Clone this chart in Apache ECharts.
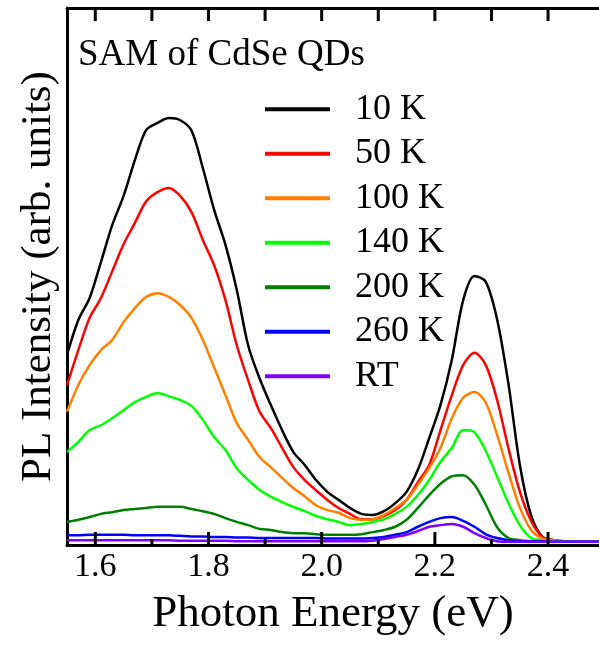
<!DOCTYPE html>
<html>
<head>
<meta charset="utf-8">
<script src="https://cdn.jsdelivr.net/npm/echarts@6/dist/echarts.min.js"></script>
<style>
    html, body { margin: 0; padding: 0; background: #fff; }
    #chart { width: 599px; height: 646px; }
</style>
</head>
<body>
<div id="chart"></div>
<script>
// photon energy grid (eV)
const energy = [
    1.55, 1.57, 1.59, 1.61, 1.63, 1.65, 1.67, 1.69, 1.71, 1.73,
    1.75, 1.77, 1.79, 1.81, 1.83, 1.85, 1.87, 1.89, 1.91, 1.93,
    1.95, 1.97, 1.99, 2.01, 2.03, 2.05, 2.07, 2.09, 2.11, 2.13,
    2.15, 2.17, 2.19, 2.21, 2.23, 2.25, 2.27, 2.29, 2.31, 2.33,
    2.35, 2.37, 2.39, 2.41, 2.43, 2.45, 2.47, 2.49,
];

// PL intensity, arb. units
const pl10K = [
    35.4, 41.9, 46.0, 52.7, 59.6, 65.0, 71.7, 77.3, 78.6, 79.5,
    79.1, 77.2, 70.2, 62.4, 55.9, 47.5, 37.2, 31.1, 26.1, 21.4,
    17.3, 14.9, 12.1, 9.9, 8.4, 6.9, 5.8, 5.6, 6.3, 7.8,
    9.9, 14.0, 19.9, 26.1, 34.5, 45.6, 50.1, 49.0, 42.0, 30.0,
    15.0, 5.5, 1.5, 0.9, 0.7, 0.7, 0.6, 0.6,
];
const pl50K = [
    29.8, 36.3, 42.3, 46.0, 51.0, 56.0, 60.0, 64.0, 65.7, 66.5,
    65.0, 62.0, 56.8, 52.1, 45.6, 37.2, 30.7, 24.9, 21.8, 18.1,
    14.5, 12.1, 10.2, 8.4, 6.9, 5.8, 4.8, 4.8, 5.4, 6.5,
    8.4, 11.7, 14.9, 21.4, 27.9, 33.5, 35.8, 33.5, 27.0, 18.0,
    10.0, 4.5, 1.5, 0.9, 0.7, 0.7, 0.6, 0.6,
];
const pl100K = [
    24.8, 29.8, 33.5, 36.3, 38.2, 41.5, 44.1, 46.2, 46.9, 46.2,
    44.7, 42.3, 38.2, 33.1, 27.9, 22.7, 19.6, 16.4, 14.5, 12.5,
    10.6, 9.1, 7.4, 6.5, 6.0, 5.0, 4.7, 4.8, 5.6, 6.9,
    8.4, 11.2, 14.3, 18.1, 23.6, 27.4, 28.5, 26.5, 20.5, 13.5,
    7.0, 2.8, 1.2, 0.9, 0.7, 0.7, 0.6, 0.6,
];
const pl140K = [
    17.3, 19.2, 21.4, 22.3, 23.6, 25.1, 26.6, 27.6, 28.3, 27.7,
    27.0, 25.9, 23.3, 20.1, 17.7, 14.3, 12.1, 10.3, 9.0, 8.0,
    7.1, 6.3, 5.4, 4.8, 4.3, 3.7, 3.9, 4.3, 4.8, 5.8,
    7.1, 9.3, 12.1, 15.5, 18.1, 21.4, 21.0, 17.5, 12.7, 7.8,
    3.7, 1.3, 0.9, 0.7, 0.7, 0.6, 0.6, 0.6,
];
const pl200K = [
    4.3, 4.7, 5.2, 5.8, 6.1, 6.5, 6.7, 6.9, 7.1, 7.1,
    7.1, 6.7, 6.3, 5.8, 5.0, 4.3, 3.7, 3.0, 2.8, 2.4,
    2.2, 2.2, 2.0, 1.9, 1.9, 1.9, 2.0, 2.4, 2.8, 3.4,
    4.7, 6.9, 9.3, 11.4, 12.8, 13.0, 11.2, 7.5, 3.3, 1.3,
    0.9, 0.7, 0.7, 0.6, 0.6, 0.6, 0.6, 0.6,
];
const pl260K = [
    1.8, 1.8, 1.9, 1.9, 1.9, 1.9, 1.8, 1.8, 1.8, 1.8,
    1.7, 1.6, 1.6, 1.5, 1.5, 1.4, 1.4, 1.3, 1.3, 1.3,
    1.3, 1.3, 1.3, 1.2, 1.2, 1.2, 1.2, 1.3, 1.5, 1.9,
    2.4, 3.4, 4.3, 5.0, 5.2, 4.5, 3.4, 2.0, 1.3, 0.9,
    0.7, 0.7, 0.7, 0.6, 0.6, 0.6, 0.6, 0.6,
];
const plRT = [
    0.9, 0.9, 0.9, 0.9, 0.9, 0.9, 0.9, 0.9, 0.9, 0.9,
    0.8, 0.8, 0.8, 0.8, 0.8, 0.7, 0.7, 0.7, 0.7, 0.7,
    0.7, 0.7, 0.7, 0.7, 0.7, 0.7, 0.7, 0.8, 1.1, 1.5,
    1.9, 2.6, 3.4, 3.7, 3.9, 3.4, 2.2, 1.3, 0.7, 0.6,
    0.6, 0.6, 0.6, 0.6, 0.6, 0.6, 0.6, 0.6,
];

const seriesNames = ['10 K', '50 K', '100 K', '140 K', '200 K', '260 K', 'RT'];
const seriesValues = [pl10K, pl50K, pl100K, pl140K, pl200K, pl260K, plRT];
const seriesColors = ['#000000', '#ff0000', '#ff8000', '#00ff00', '#008000', '#0000ff', '#8000ff'];

// tick positions (eV)
const majorTicks = [1.6, 1.8, 2.0, 2.2, 2.4];
const minorTicks = [1.7, 1.9, 2.1, 2.3];
const topTicks = [1.6, 1.7, 1.8, 1.9, 2.0, 2.1, 2.2, 2.3, 2.4];

const xMin = 1.55;
const xMax = 2.49;
const yMin = 0;
const yMax = 100;

const FONT = '"Liberation Serif", "Times New Roman", serif';

const gridBox = {left: 67, right: 0, top: 8, bottom: 101};
const W = 599, H = 646;

const option = {
    animation: false,
    backgroundColor: '#fff',
    grid: gridBox,
    legend: {
        orient: 'vertical',
        left: 260,
        top: 86,
        icon: 'rect',
        itemWidth: 65,
        itemHeight: 4,
        itemGap: 8,
        data: seriesNames,
        textStyle: {
            fontFamily: FONT,
            fontSize: 36,
            lineHeight: 36.5,
            color: '#000',
            padding: [0, 0, 0, 20],
        },
    },
    xAxis: [
        {
            type: 'value',
            position: 'bottom',
            min: xMin,
            max: xMax,
            axisLine: {lineStyle: {color: '#000', width: 3}},
            axisTick: {show: false},
            axisLabel: {
                customValues: majorTicks,
                formatter: (v) => v.toFixed(1),
                fontFamily: FONT,
                fontSize: 34,
                color: '#000',
                margin: 5,
            },
            splitLine: {show: false},
            name: 'Photon Energy (eV)',
            nameLocation: 'middle',
            nameGap: 47,
            nameTextStyle: {fontFamily: FONT, fontSize: 45, color: '#000'},
        },
        {
            type: 'value',
            position: 'top',
            min: xMin,
            max: xMax,
            axisLine: {lineStyle: {color: '#000', width: 3}},
            axisTick: {show: false},
            axisLabel: {show: false},
            splitLine: {show: false},
        },
    ],
    yAxis: {
        type: 'value',
        min: yMin,
        max: yMax,
        axisLine: {show: true, lineStyle: {color: '#000', width: 3}},
        axisTick: {show: false},
        axisLabel: {show: false},
        splitLine: {show: false},
        name: 'PL Intensity (arb. units)',
        nameLocation: 'middle',
        nameGap: 7,
        nameTextStyle: {fontFamily: FONT, fontSize: 43, color: '#000'},
    },
    series: seriesNames.map((name, i) => ({
        name: name,
        type: 'line',
        symbol: 'none',
        smooth: 0.3,
        color: seriesColors[i],
        lineStyle: {width: 2.5, color: seriesColors[i]},
        data: energy.map((e, k) => [e, seriesValues[i][k]]),
    })),
};

const chart = echarts.init(document.getElementById('chart'));
chart.setOption(option);

// pixel position of a value on the x / y axis, via the chart's scales
function xPx(v) {
    const p = chart.convertToPixel({xAxisIndex: 0}, v);
    if (Number.isFinite(p)) return p;
    return gridBox.left + (v - xMin) / (xMax - xMin) * (W - gridBox.left - gridBox.right);
}
function yPx(v) {
    const p = chart.convertToPixel({yAxisIndex: 0}, v);
    if (Number.isFinite(p)) return p;
    return H - gridBox.bottom - (v - yMin) / (yMax - yMin) * (H - gridBox.top - gridBox.bottom);
}

// ticks as small filled bars pointing into the plot
function tickRects(values, atY, lengthPx) {
    const y = yPx(atY);
    const top = atY === yMin ? y - lengthPx : y;
    return values.map((v) => ({
        type: 'rect',
        silent: true,
        z: 100,
        shape: {x: xPx(v) - 1.5, y: top, width: 3, height: lengthPx},
        style: {fill: '#000'},
    }));
}

chart.setOption({
    graphic: [
        {
            type: 'text',
            left: 78,
            top: 37,
            style: {
                text: 'SAM of CdSe QDs',
                font: '37px ' + FONT,
                fill: '#000',
            },
        },
    ].concat(
        tickRects(majorTicks, yMin, 13),
        tickRects(minorTicks, yMin, 6),
        tickRects(topTicks, yMax, 13)
    ),
});
</script>
</body>
</html>
